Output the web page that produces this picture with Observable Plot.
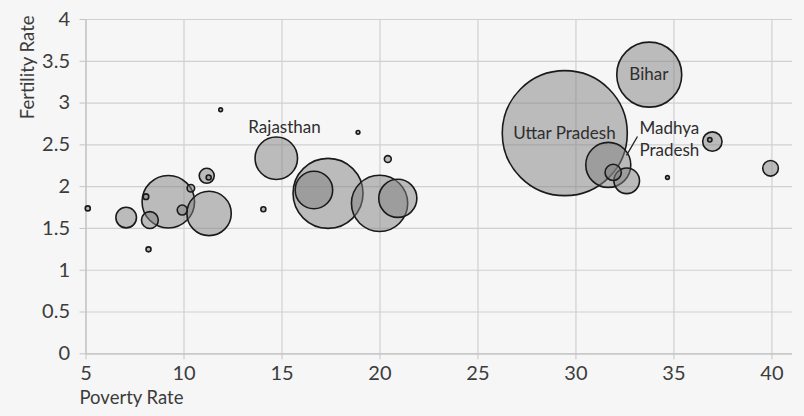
<!DOCTYPE html>
<html>
<head>
<meta charset="utf-8">
<script src="https://cdn.jsdelivr.net/npm/d3@7"></script>
<script src="https://cdn.jsdelivr.net/npm/@observablehq/plot@0.6"></script>
<style>
  html, body { margin: 0; padding: 0; background: #f6f6f6; }
  #chart svg { display: block; }
</style>
</head>
<body>
<div id="chart"></div>
<script>
// States (draw order = alphabetical, as in the source spreadsheet)
const states = ["Andhra Pradesh","Arunachal Pradesh","Assam","Bihar","Chhattisgarh","Delhi","Goa","Gujarat","Haryana","Himachal Pradesh","Jammu & Kashmir","Jharkhand","Karnataka","Kerala","Madhya Pradesh","Maharashtra","Manipur","Meghalaya","Mizoram","Nagaland","Odisha","Punjab","Rajasthan","Sikkim","Tamil Nadu","Tripura","Uttar Pradesh","Uttarakhand","West Bengal"];
const poverty   = [9.2, 34.67, 31.9, 33.74, 39.93, 9.91, 5.09, 16.63, 11.16, 8.06, 10.35, 36.96, 20.91, 7.05, 31.65, 17.35, 36.83, 11.87, 20.4, 18.88, 32.59, 8.26, 14.71, 8.19, 11.28, 14.05, 29.43, 11.26, 19.98];
const fertility = [1.82, 2.11, 2.17, 3.34, 2.22, 1.72, 1.74, 1.96, 2.13, 1.88, 1.98, 2.54, 1.86, 1.63, 2.26, 1.92, 2.56, 2.92, 2.33, 2.65, 2.07, 1.60, 2.34, 1.25, 1.68, 1.73, 2.64, 2.11, 1.80];
const bubbleSize = [84, 6, 26, 104, 25, 16, 8, 60, 24, 9, 12, 31, 61, 33, 72, 112, 7, 6, 11, 6, 41, 27, 68, 8, 71, 8, 200, 8, 90];

// Annotations
const labelNames = ["Rajasthan", "Uttar Pradesh", "Bihar"];
const labelX = [15.13, 29.41, 33.72];
const labelY = [2.71, 2.63, 3.345];
const mpLabel = {text: "Madhya\nPradesh", x: 33.24, y: 2.58};
const leader = [{x1: 33.14, y1: 2.60, x2: 32.58, y2: 2.375}];

// Axes
const xTicks = [5, 10, 15, 20, 25, 30, 35, 40];
const yTicks = [0, 0.5, 1, 1.5, 2, 2.5, 3, 3.5, 4];

const data = states.map((s, i) => ({state: s, poverty: poverty[i], fertility: fertility[i], size: bubbleSize[i]}));
const labels = labelNames.map((t, i) => ({text: t, x: labelX[i], y: labelY[i]}));

const chart = Plot.plot({
  width: 804,
  height: 416,
  marginLeft: 85.5,
  marginRight: 12,
  marginTop: 19,
  marginBottom: 62.7,
  style: {background: "#f6f6f6", fontFamily: "Lato, 'Open Sans', sans-serif"},
  x: {domain: [5, 41.05]},
  y: {domain: [0, 4]},
  r: {type: "linear", domain: [0, 200], range: [0, 62.5]},
  marks: [
    Plot.gridX({ticks: xTicks, stroke: "#d0d0d0", strokeOpacity: 1, strokeWidth: 1.2}),
    Plot.gridY({ticks: yTicks, stroke: "#d0d0d0", strokeOpacity: 1, strokeWidth: 1.2}),
    Plot.ruleY([0], {stroke: "#c4c4c4", strokeWidth: 1.3}),
    Plot.ruleX([5], {stroke: "#c4c4c4", strokeWidth: 1.3}),
    Plot.axisX({ticks: xTicks, tickSize: 6, tickPadding: 6, stroke: "#c4c4c4", fill: "#3c3c3c", fontSize: 20, label: null, tickFormat: d => String(d)}),
    Plot.axisY({ticks: yTicks, tickSize: 6, tickPadding: 10, stroke: "#c4c4c4", fill: "#3c3c3c", fontSize: 20, label: null, tickFormat: d => String(d)}),
    Plot.dot(data, {x: "poverty", y: "fertility", r: "size", fill: "#808080", fillOpacity: 0.5, stroke: "#1a1a1a", strokeWidth: 1.6}),
    Plot.link(leader, {x1: "x1", y1: "y1", x2: "x2", y2: "y2", stroke: "#222", strokeWidth: 1.3}),
    Plot.text(labels, {x: "x", y: "y", text: "text", fontSize: 17, fill: "#2e2e2e"}),
    Plot.text([mpLabel], {x: "x", y: "y", text: "text", fontSize: 17, fill: "#2e2e2e", textAnchor: "start", lineHeight: 1.3}),
    Plot.text(["Poverty Rate"], {frameAnchor: "bottom-left", textAnchor: "start", dx: -6.5, dy: 50, fontSize: 18.5, fill: "#3c3c3c"}),
    Plot.text(["Fertility Rate"], {frameAnchor: "top-left", textAnchor: "end", rotate: -90, dx: -65.5, dy: -4, fontSize: 18.5, fill: "#3c3c3c"})
  ]
});
document.getElementById("chart").append(chart);
</script>
</body>
</html>
